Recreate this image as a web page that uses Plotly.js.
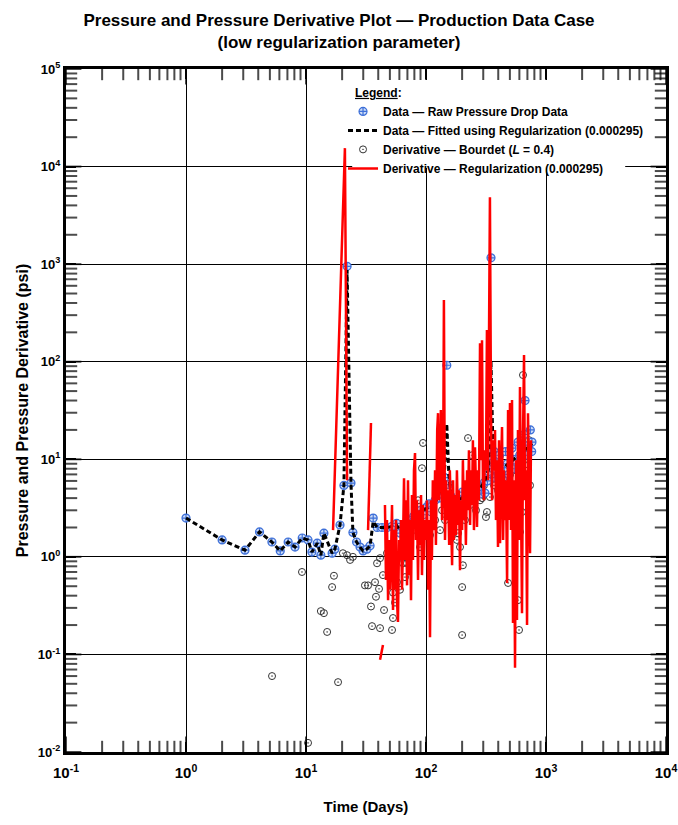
<!DOCTYPE html>
<html>
<head>
<meta charset="utf-8">
<script src="https://cdn.plot.ly/plotly-3.0.1.min.js"></script>
<style>
  html, body { margin: 0; padding: 0; background: #ffffff; }
  #chart { width: 678px; height: 825px; }
</style>
</head>
<body>
<div id="chart"></div>
<script>
// Raw pressure drop data (days, psi)
const rawT = [1.0, 2.0, 3.1, 4.1, 5.2, 6.1, 7.1, 8.1, 9.3, 10.4,
  11.2, 12.4, 13.3, 14.1, 16.5, 17.4, 19.2, 20.7, 22.0, 23.7,
  24.6, 26.4, 28.2, 29.9, 32.2, 34.2, 36.3, 39.2, 43, 47.5,
  52, 57, 61, 65, 67, 71, 75, 79, 84, 90,
  95, 100, 106, 112, 119, 126, 134, 138, 143, 149,
  155, 161, 171, 181, 192, 204, 216, 229, 243, 257,
  273, 289, 307, 319, 332, 338, 348, 362, 376, 399,
  423, 449, 476, 505, 536, 569, 603, 640, 679, 720,
  764,
  110, 130, 165, 200, 240, 280, 310, 325, 355, 370,
  390, 410, 440, 460, 490, 520, 550, 585, 620, 660,
  669, 700, 740, 760];
const rawP = [2.5, 1.49, 1.17, 1.80, 1.42, 1.15, 1.42, 1.26, 1.56, 1.49,
  1.12, 1.38, 1.04, 1.75, 1.09, 1.20, 2.12, 5.4, 950, 5.7,
  1.78, 1.42, 1.26, 1.15, 1.20, 1.30, 2.5, 2.0, 2.0, 2.0,
  2.05, 2.2, 1.75, 1.9, 1.7, 2.1, 2.4, 2.6, 2.8, 3.0,
  2.7, 3.2, 3.5, 3.3, 3.8, 4.1, 4.6, 5.2, 6.5, 92,
  5.5, 4.2, 3.8, 3.5, 3.9, 4.2, 4.0, 4.4, 4.6, 4.3,
  4.8, 5.2, 5.8, 6.5, 7.5, 9, 1160, 8, 6.5, 7,
  8, 7.5, 9, 8.5, 10, 9, 11, 12, 13, 14,
  15,
  2.9, 4.0, 3.5, 4.6, 5.0, 4.4, 4.5, 6.0, 10, 12,
  9.5, 11, 6.5, 12, 7, 13, 8, 15, 9, 18,
  40, 11, 20, 12];

// Pressure fitted with regularization (0.000295)
const fitT = [1.0, 2.0, 3.1, 4.1, 5.2, 6.1, 7.1, 8.1, 9.3, 10.4,
  11.2, 12.4, 13.3, 14.1, 16.5, 17.4, 19.2, 20.7, 22.0, 23.7,
  24.6, 26.4, 28.2, 29.9, 32.2, 34.2, 36.3, 39.2, 43, 47.5,
  52, 57, 61, 65, 67, 71, 75, 79, 84, 90,
  95, 100, 106, 112, 119, 126, 134, 138, 143, 149,
  155, 161, 171, 181, 192, 204, 216, 229, 243, 257,
  273, 289, 307, 319, 332, 338, 348, 362, 376, 399,
  423, 449, 476, 505, 536, 569, 603, 640, 679, 720,
  764];
const fitP = [2.5, 1.49, 1.17, 1.80, 1.42, 1.15, 1.42, 1.26, 1.56, 1.49,
  1.12, 1.38, 1.04, 1.75, 1.09, 1.20, 2.12, 5.4, 870, 5.7,
  1.78, 1.42, 1.26, 1.15, 1.20, 1.30, 2.3, 2.0, 2.0, 2.0,
  2.05, 2.1, 1.85, 1.9, 1.9, 2.1, 2.3, 2.5, 2.7, 2.9,
  3.0, 3.1, 3.3, 3.4, 3.7, 4.0, 4.6, 5.4, 8, 23,
  7, 4.6, 4.0, 3.8, 3.9, 4.1, 4.2, 4.4, 4.6, 4.7,
  4.9, 5.3, 5.9, 6.6, 8, 14, 100, 12, 8, 7.5,
  8, 8.3, 8.8, 9.3, 10, 10.6, 11.2, 12, 12.8, 13.5,
  14.5];

// Bourdet derivative, L = 0.4
const bourdetT = [5.21, 9.26, 10.4, 13.3, 14.1, 15.0, 16.5, 17.1, 18.5, 20.3,
  22.0, 23.3, 24.6, 31.0, 32.9, 34.8, 35.5, 37.6, 38.3, 39.1,
  40.6, 41.4, 41.4, 43.8, 44.7, 47.3, 50.1, 52.1, 53.1, 53.1,
  55.2, 57.3, 60.7, 63.1, 64.3, 66.8, 69.5, 73.6, 77.9, 81.0,
  85.8, 89.1, 92.6, 94.4, 98.1, 104, 108, 112, 119, 124,
  131, 136, 144, 150, 158, 168, 174, 181, 185, 192,
  200, 200, 203, 211, 224, 233, 242, 251, 261, 271,
  282, 293, 304, 316, 322, 335, 341, 355, 369, 383,
  398, 414, 430, 447, 464, 474, 483, 501, 521, 541,
  562, 573, 584, 596, 607, 619, 631, 643, 656, 669,
  681, 695, 708, 722, 736];
const bourdetP = [0.060, 0.70, 0.0124, 0.278, 0.265, 0.170, 0.49, 0.64, 0.052, 1.09,
  1.04, 0.93, 1.0, 0.51, 0.51, 0.31, 0.195, 0.55, 0.39, 0.86,
  0.47, 0.97, 0.186, 0.65, 0.285, 1.09, 1.0, 0.178, 0.43, 0.236,
  0.34, 0.55, 0.46, 1.09, 0.86, 0.62, 0.86, 1.32, 1.88, 2.81,
  3.8, 1.26, 8.1, 14.7, 2.12, 3.0, 1.67, 3.4, 2.38, 4.3,
  1.88, 3.0, 2.38, 3.8, 2.68, 1.88, 3.0, 1.49, 1.75, 1.26,
  0.49, 0.158, 0.82, 2.38, 16.5, 3.4, 11.0, 4.3, 3.0, 4.8,
  3.8, 4.0, 5.4, 2.56, 2.88, 6.1, 4.1, 7.7, 5.4, 6.9,
  4.8, 8.7, 6.1, 7.7, 4.3, 3.8, 0.54, 6.9, 9.8, 4.8,
  7.7, 3.56, 0.36, 0.178, 1.80, 6.1, 2.88, 73, 9.8, 40.4,
  4.8, 12.4, 7.7, 15.7, 5.4];

// Derivative from regularization (0.000295); null = negative derivative, not drawn on log scale
const regT = [16.8, 21.1, 22.0, 27, 32.9, 34.8, 38, 41.4, 43.8, 44.6,
  45.5, 46.4, 47.3, 48.3, 49.2, 50.1, 51.1, 52.1, 53.1, 54.1,
  55.2, 56.2, 57.3, 58.4, 59.6, 60.7, 61.9, 63.1, 64.3, 65.6,
  66.8, 68.1, 69.5, 70.8, 72.2, 73.6, 75.0, 76.4, 77.9, 79.4,
  81.0, 82.5, 84.1, 85.8, 87.4, 89.1, 90.9, 92.6, 94.4, 96.2,
  98.1, 100, 102, 104, 106, 108, 110, 112, 114, 117,
  119, 121, 124, 126, 128, 131, 133, 136, 139, 141,
  144, 147, 150, 153, 156, 158, 162, 165, 168, 171,
  174, 178, 181, 185, 188, 192, 196, 200, 203, 207,
  211, 215, 220, 224, 228, 233, 237, 242, 246, 251,
  256, 261, 266, 271, 276, 282, 287, 293, 298, 304,
  310, 316, 322, 329, 335, 341, 348, 355, 362, 369,
  376, 383, 391, 398, 406, 414, 422, 430, 439, 447,
  456, 464, 474, 483, 492, 501, 511, 521, 531, 541,
  552, 562, 573, 584, 596, 607, 619, 631, 643, 656,
  669, 681, 695, 708, 722, 736, 750];
const regP = [1.88, 15450, 6.1, null, 1.88, 23.5, null, 0.088, 0.125, null,
  3.4, 0.58, 2.38, 0.36, 1.49, 0.46, 1.04, 3.4, 0.285, 1.88,
  0.46, 2.38, 0.36, 0.215, 1.49, 0.93, 2.38, 0.46, 1.32, 6.4,
  0.93, 3.8, 0.51, 6.1, 0.65, 2.38, 0.36, 4.3, 0.93, 7.7,
  11.6, 1.49, 3.8, 0.58, 3.0, 1.32, 4.3, 0.65, 3.4, 0.93,
  2.38, 1.49, 3.8, 0.46, 2.38, 0.15, 3.8, 0.93, 6.1, 1.88,
  7.7, 1.32, 19.9, 29.7, 3.8, 7.7, 31.9, 2.38, 7.7, 428,
  1.49, 6.1, 2.38, 4.8, 1.32, 7.7, 2.38, 0.82, 6.1, 1.49,
  4.3, 1.67, 7.7, 2.12, 4.8, 0.73, 3.8, 1.88, 9.8, 2.38,
  6.1, 1.32, 7.7, 3.0, 12.4, 2.12, 7.7, 3.4, 15.7, 1.88,
  13.3, 3.0, 2.02, 7.7, 3.8, 155, 9.8, 166, 6.1, 3.8,
  12.4, 7.7, 211, 6.1, 1390, 4860, 31.9, 3.8, 15.7, 7.7,
  19.9, 2.38, 9.8, 1.26, 15.7, 1.38, 7.7, 21.4, 1.49, 7.7,
  2.38, 6.1, 0.54, 31.9, 2.38, 37.7, 1.88, 40.4, 0.21, 6.1,
  0.073, 9.8, 0.225, 19.9, 1.49, 55, 3.8, 0.265, 15.7, 117,
  3.8, 7.7, 0.20, 29.7, 6.1, 1.09, 15.7];

// Decade positions and their labels
const xDecades = [0.1, 1, 10, 100, 1000, 10000];
const xDecadeText = ['10<sup>-1</sup>', '10<sup>0</sup>', '10<sup>1</sup>', '10<sup>2</sup>', '10<sup>3</sup>', '10<sup>4</sup>'];
const yDecades = [0.01, 0.1, 1, 10, 100, 1000, 10000, 100000];
const yDecadeText = ['10<sup>-2</sup>', '10<sup>-1</sup>', '10<sup>0</sup>', '10<sup>1</sup>', '10<sup>2</sup>', '10<sup>3</sup>', '10<sup>4</sup>', '10<sup>5</sup>'];
const xRange = [-1, 4];
const yRange = [-2, 5];

// 2..9 inside every decade
function minorTicks(decades) {
  const out = [];
  decades.slice(0, -1).forEach(d => { for (let k = 2; k <= 9; k++) out.push(k * d); });
  return out;
}
const xMinor = minorTicks(xDecades);
const yMinor = minorTicks(yDecades);

// Tick marks along the four frame edges, placed as line markers on the axis lines;
// the half outside the plot area is clipped, leaving an inward tick.
const xEdgeMin = xDecades[0], xEdgeMax = xDecades[xDecades.length - 1];
const yEdgeMin = yDecades[0], yEdgeMax = yDecades[yDecades.length - 1];
const tickX = [], tickY = [], tickSym = [], tickSize = [];
[yEdgeMin, yEdgeMax].forEach(yEdge => {
  xMinor.forEach(v => { tickX.push(v); tickY.push(yEdge); tickSym.push('line-ns'); tickSize.push(16); });
  xDecades.forEach(v => { tickX.push(v); tickY.push(yEdge); tickSym.push('line-ns'); tickSize.push(22); });
});
[xEdgeMin, xEdgeMax].forEach(xEdge => {
  yMinor.forEach(v => { tickX.push(xEdge); tickY.push(v); tickSym.push('line-ew'); tickSize.push(16); });
  yDecades.forEach(v => { tickX.push(xEdge); tickY.push(v); tickSym.push('line-ew'); tickSize.push(22); });
});

const FONT = 'Liberation Sans, Arial, sans-serif';
const boldFont = (size) => ({ family: FONT, size: size, weight: 'bold', color: '#000000' });

const traces = [
  {
    type: 'scatter', mode: 'markers', x: bourdetT, y: bourdetP,
    name: 'Derivative — Bourdet (<i>L</i> = 0.4)', legendrank: 3,
    marker: { symbol: 'circle-open-dot', size: 7, color: '#333333', line: { width: 1 } }
  },
  {
    type: 'scatter', mode: 'markers', x: rawT, y: rawP,
    name: 'Data — Raw Pressure Drop Data', legendrank: 1,
    marker: { symbol: 'circle-cross', size: 8, color: '#cddcf6', line: { color: '#3d6fd8', width: 1.2 } }
  },
  {
    type: 'scatter', mode: 'lines', x: fitT, y: fitP,
    name: 'Data — Fitted using Regularization (0.000295)', legendrank: 2,
    line: { color: '#000000', width: 3, dash: '5px,3px' }
  },
  {
    // frame tick marks
    type: 'scatter', mode: 'markers', x: tickX, y: tickY,
    showlegend: false, hoverinfo: 'skip', cliponaxis: true,
    marker: { symbol: tickSym, size: tickSize, color: '#000000', line: { color: '#000000', width: 2 } }
  },
  {
    // on the overlay axes (which carry the decade grid), so it sits on top
    type: 'scatter', mode: 'lines', x: regT, y: regP, connectgaps: false,
    xaxis: 'x2', yaxis: 'y2',
    name: 'Derivative — Regularization (0.000295)', legendrank: 4,
    line: { color: '#ff0000', width: 2.5 }
  }
];

// main axes: frame and decade labels
const mainAxis = {
  type: 'log', tickmode: 'array',
  ticks: 'inside', ticklen: 10, tickwidth: 2, tickcolor: '#000000',
  showline: true, linewidth: 3, linecolor: '#000000', mirror: 'ticks',
  showgrid: false, zeroline: false, ticklabeloverflow: 'allow'
};

// overlay axes: decade grid lines, no labels
const gridAxis = {
  type: 'log', tickmode: 'array', showticklabels: false, ticks: '',
  showgrid: true, gridcolor: '#000000', gridwidth: 1, zeroline: false
};

const layout = {
  width: 678, height: 825,
  margin: { l: 66, r: 12, t: 69, b: 73 },
  paper_bgcolor: '#ffffff', plot_bgcolor: '#ffffff',
  showlegend: true,
  title: {
    text: 'Pressure and Pressure Derivative Plot — Production Data Case<br>(low regularization parameter)',
    x: 0.5, xanchor: 'center', xref: 'container', y: 0.9685, yanchor: 'middle', yref: 'container',
    font: boldFont(17)
  },
  xaxis: Object.assign({}, mainAxis, {
    range: xRange, tickvals: xDecades, ticktext: xDecadeText,
    tickfont: boldFont(15), ticklabelstandoff: 5,
    title: { text: 'Time (Days)', font: boldFont(15), standoff: 22 }
  }),
  yaxis: Object.assign({}, mainAxis, {
    range: yRange, tickvals: yDecades, ticktext: yDecadeText,
    tickfont: boldFont(13),
    title: { text: 'Pressure and Pressure Derivative (psi)', font: boldFont(16), standoff: 6 }
  }),
  xaxis2: Object.assign({}, gridAxis, {
    overlaying: 'x', anchor: 'y2', side: 'bottom', range: xRange, tickvals: xDecades
  }),
  yaxis2: Object.assign({}, gridAxis, {
    overlaying: 'y', anchor: 'x2', side: 'left', range: yRange, tickvals: yDecades
  }),
  legend: {
    x: 0.4617, y: 0.982, xanchor: 'left', yanchor: 'top',
    bgcolor: 'rgba(0,0,0,0)', borderwidth: 0, traceorder: 'normal',
    font: boldFont(12), itemwidth: 30,
    title: { text: '\u00A0\u00A0\u00A0<u>Legend</u>:', font: boldFont(12) }
  },
  shapes: [{
    // white panel behind the legend text
    type: 'rect', xref: 'paper', yref: 'paper', layer: 'above',
    x0: 0.477, x1: 0.932, y0: 0.855, y1: 0.984,
    fillcolor: '#ffffff', line: { width: 0 }
  }]
};

Plotly.newPlot('chart', traces, layout, { displayModeBar: false, staticPlot: true });
</script>
</body>
</html>
